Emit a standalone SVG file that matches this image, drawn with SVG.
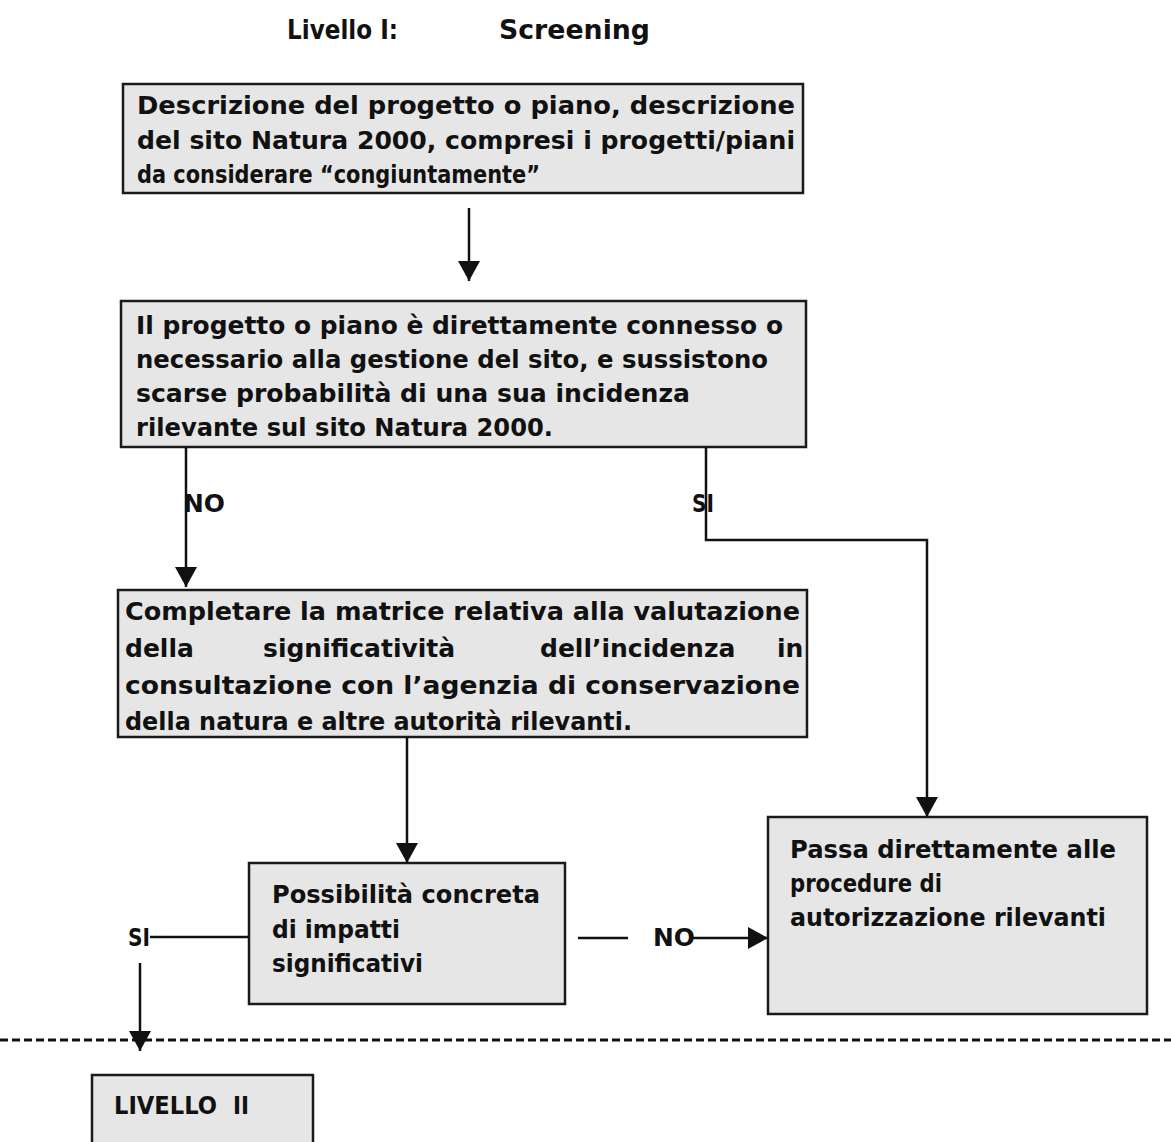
<svg xmlns="http://www.w3.org/2000/svg" width="1171" height="1142" viewBox="0 0 1171 1142">
<style>
.bg{fill:#ffffff}
.box{fill:#e6e6e6;stroke:#1a1a1a;stroke-width:2.5}
.t{font-family:"DejaVu Sans","Liberation Sans",sans-serif;font-weight:bold;font-size:25px;fill:#111}
.title{font-family:"DejaVu Sans","Liberation Sans",sans-serif;font-weight:bold;font-size:27px;fill:#111}
.ln{fill:none;stroke:#111;stroke-width:2.5}
.dash{fill:none;stroke:#111;stroke-width:3;stroke-dasharray:8 4}
</style>
<defs>
<marker id="ah" viewBox="0 0 20 22" refX="20" refY="11" markerWidth="20" markerHeight="22" markerUnits="userSpaceOnUse" orient="auto">
<path d="M0,0 L20,11 L0,22 z" fill="#111"/>
</marker>
</defs>
<rect class="bg" x="0" y="0" width="1171" height="1142"/>

<g id="title">
<text class="title" x="287" y="39" textLength="111" lengthAdjust="spacingAndGlyphs">Livello I:</text>
<text class="title" x="499" y="39" textLength="151" lengthAdjust="spacingAndGlyphs">Screening</text>
</g>

<g id="node-descrizione">
<rect class="box" x="123" y="84" width="680" height="109"/>
<text class="t" x="137" y="114" textLength="658" lengthAdjust="spacingAndGlyphs">Descrizione del progetto o piano, descrizione</text>
<text class="t" x="137" y="149" textLength="658" lengthAdjust="spacingAndGlyphs">del sito Natura 2000, compresi i progetti/piani</text>
<text class="t" x="137" y="183" textLength="403" lengthAdjust="spacingAndGlyphs">da considerare “congiuntamente”</text>
</g>

<g id="node-connesso">
<rect class="box" x="121" y="301" width="685" height="146"/>
<text class="t" x="136" y="334" textLength="647" lengthAdjust="spacingAndGlyphs">Il progetto o piano è direttamente connesso o</text>
<text class="t" x="136" y="368" textLength="632" lengthAdjust="spacingAndGlyphs">necessario alla gestione del sito, e sussistono</text>
<text class="t" x="136" y="402" textLength="554" lengthAdjust="spacingAndGlyphs">scarse probabilità di una sua incidenza</text>
<text class="t" x="136" y="436" textLength="417" lengthAdjust="spacingAndGlyphs">rilevante sul sito Natura 2000.</text>
</g>

<g id="node-matrice">
<rect class="box" x="118" y="590" width="689" height="147"/>
<text class="t" x="125" y="620" textLength="675" lengthAdjust="spacingAndGlyphs">Completare la matrice relativa alla valutazione</text>
<text class="t" y="657"><tspan x="125">della</tspan><tspan x="263">significatività</tspan><tspan x="540">dell’incidenza</tspan><tspan x="777">in</tspan></text>
<text class="t" x="125" y="694" textLength="675" lengthAdjust="spacingAndGlyphs">consultazione con l’agenzia di conservazione</text>
<text class="t" x="125" y="730" textLength="507" lengthAdjust="spacingAndGlyphs">della natura e altre autorità rilevanti.</text>
</g>

<g id="node-possibilita">
<rect class="box" x="249" y="863" width="316" height="141"/>
<text class="t" x="272" y="903" textLength="268" lengthAdjust="spacingAndGlyphs">Possibilità concreta</text>
<text class="t" x="272" y="938" textLength="128" lengthAdjust="spacingAndGlyphs">di impatti</text>
<text class="t" x="272" y="972" textLength="151" lengthAdjust="spacingAndGlyphs">significativi</text>
</g>

<g id="node-passa">
<rect class="box" x="768" y="817" width="379" height="197"/>
<text class="t" x="790" y="858" textLength="326" lengthAdjust="spacingAndGlyphs">Passa direttamente alle</text>
<text class="t" x="790" y="892" textLength="152" lengthAdjust="spacingAndGlyphs">procedure di</text>
<text class="t" x="790" y="926" textLength="316" lengthAdjust="spacingAndGlyphs">autorizzazione rilevanti</text>
</g>

<g id="node-livello2">
<rect class="box" x="92" y="1075" width="221" height="80"/>
<text class="t" x="114" y="1114" textLength="103" lengthAdjust="spacingAndGlyphs">LIVELLO</text>
<text class="t" x="233" y="1114" textLength="16" lengthAdjust="spacingAndGlyphs">II</text>
</g>

<g id="connectors">
<line class="ln" x1="469" y1="208" x2="469" y2="281" marker-end="url(#ah)"/>
<line class="ln" x1="186" y1="447" x2="186" y2="587" marker-end="url(#ah)"/>
<path class="ln" d="M706,447 V540 H927 V817" marker-end="url(#ah)"/>
<line class="ln" x1="407" y1="737" x2="407" y2="863" marker-end="url(#ah)"/>
<line class="ln" x1="150" y1="937" x2="249" y2="937"/>
<line class="ln" x1="140" y1="963" x2="140" y2="1051" marker-end="url(#ah)"/>
<line class="ln" x1="578" y1="938" x2="628" y2="938"/>
<line class="ln" x1="692" y1="938" x2="768" y2="938" marker-end="url(#ah)"/>
<line class="dash" x1="0" y1="1040" x2="1171" y2="1040"/>
<text class="t" x="183" y="512" textLength="42" lengthAdjust="spacingAndGlyphs">NO</text>
<text class="t" x="692" y="512" textLength="22" lengthAdjust="spacingAndGlyphs">SI</text>
<text class="t" x="128" y="946" textLength="22" lengthAdjust="spacingAndGlyphs">SI</text>
<text class="t" x="653" y="946" textLength="42" lengthAdjust="spacingAndGlyphs">NO</text>
</g>
</svg>
